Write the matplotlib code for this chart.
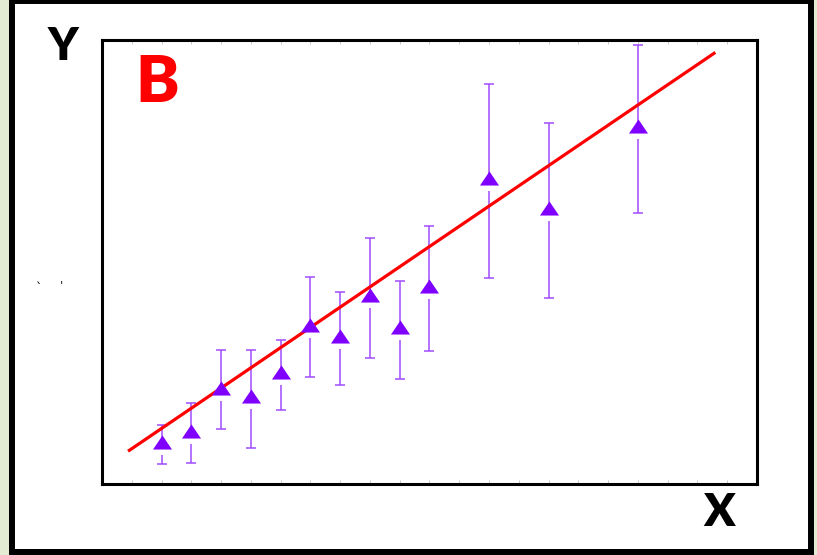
import matplotlib
matplotlib.use("Agg")
import matplotlib.pyplot as plt
from matplotlib.patches import Rectangle
import numpy as np

# ---- data ----
x_vals = [2, 3, 4, 5, 6, 7, 8, 9, 10, 11, 13, 15, 18]
y_vals = [1.42, 1.79, 3.24, 2.97, 3.78, 5.37, 5.00, 6.39, 5.30, 6.69, 10.34, 9.32, 12.09]
y_low = [0.68, 0.71, 1.86, 1.22, 2.50, 3.61, 3.34, 4.26, 3.55, 4.49, 6.96, 6.28, 9.16]
y_high = [1.99, 2.74, 4.53, 4.53, 4.86, 6.99, 6.49, 8.31, 6.86, 8.72, 13.51, 12.20, 14.83]
fit_x = [0.875, 20.6]
fit_slope = 0.683
fit_intercept = 0.51
x_ticks = list(range(1, 22))

W, H, DPI = 817, 555, 100
fig = plt.figure(figsize=(W / DPI, H / DPI), dpi=DPI)
fig.patch.set_facecolor("#E3EBD3")

# outer white panel with black frame
px = lambda v: v / W
py = lambda v: v / H
fig.patches.append(Rectangle((px(12), py(3)), px(799), py(551), transform=fig.transFigure,
                             facecolor="white", edgecolor="black", linewidth=4.3, zorder=-5))

ax = fig.add_axes([102 / W, (555 - 484) / H, 655 / W, 444 / H])
ax.set_zorder(2)
ax.set_xlim(0, 22)
ax.set_ylim(0, 15)
for s in ax.spines.values():
    s.set_linewidth(2.2)
    s.set_color("black")
ax.set_xticks(x_ticks)
ax.set_xticklabels([])
ax.set_yticks([])
ax.tick_params(axis="x", direction="in", length=3, width=0.7, color="#C8C8C8",
               top=True, bottom=True)

x = np.array(x_vals, dtype=float)
y = np.array(y_vals)
lo = np.array(y_low)
hi = np.array(y_high)

err_color = "#A04CFF"
gap = 0.44
ax.vlines(x, lo, y - gap, color=err_color, linewidth=1.1, zorder=2)
ax.vlines(x, y, hi, color=err_color, linewidth=1.1, zorder=2)
ax.plot(x, lo, linestyle="none", marker="_", markersize=6.5, markeredgewidth=1.1,
        color=err_color, zorder=2)
ax.plot(x, hi, linestyle="none", marker="_", markersize=6.5, markeredgewidth=1.1,
        color=err_color, zorder=2)

fx = np.array(fit_x)
ax.plot(fx, fit_intercept + fit_slope * fx, color="#FF0000", linewidth=2.3,
        solid_capstyle="butt", zorder=3)

tri = [(0, 0.74), (-1, -0.74), (1, -0.74), (0, 0.74)]
ax.plot(x, y, linestyle="none", marker=tri, markersize=13.7, color="#7F00FF",
        markeredgewidth=0, zorder=4)

fig.text(63 / W, 1 - 46 / H, "Y", fontsize=33, fontweight="heavy", family="Lato",
         ha="center", va="center", color="black")
fig.text(719 / W, 1 - 513 / H, "X", fontsize=33, fontweight="heavy", family="Lato",
         ha="center", va="center", color="black")
fig.text(157 / W, 1 - 84 / H, "B", fontsize=47, fontweight="heavy", family="Lato",
         ha="center", va="center", color="#FF0000")
fig.text(39 / W, 1 - 288 / H, "`", fontsize=9, ha="center", va="center", color="black")
fig.text(61 / W, 1 - 287 / H, "ˈ", fontsize=9, ha="center", va="center", color="black")

fig.savefig("out.png", dpi=DPI, facecolor=fig.get_facecolor())
